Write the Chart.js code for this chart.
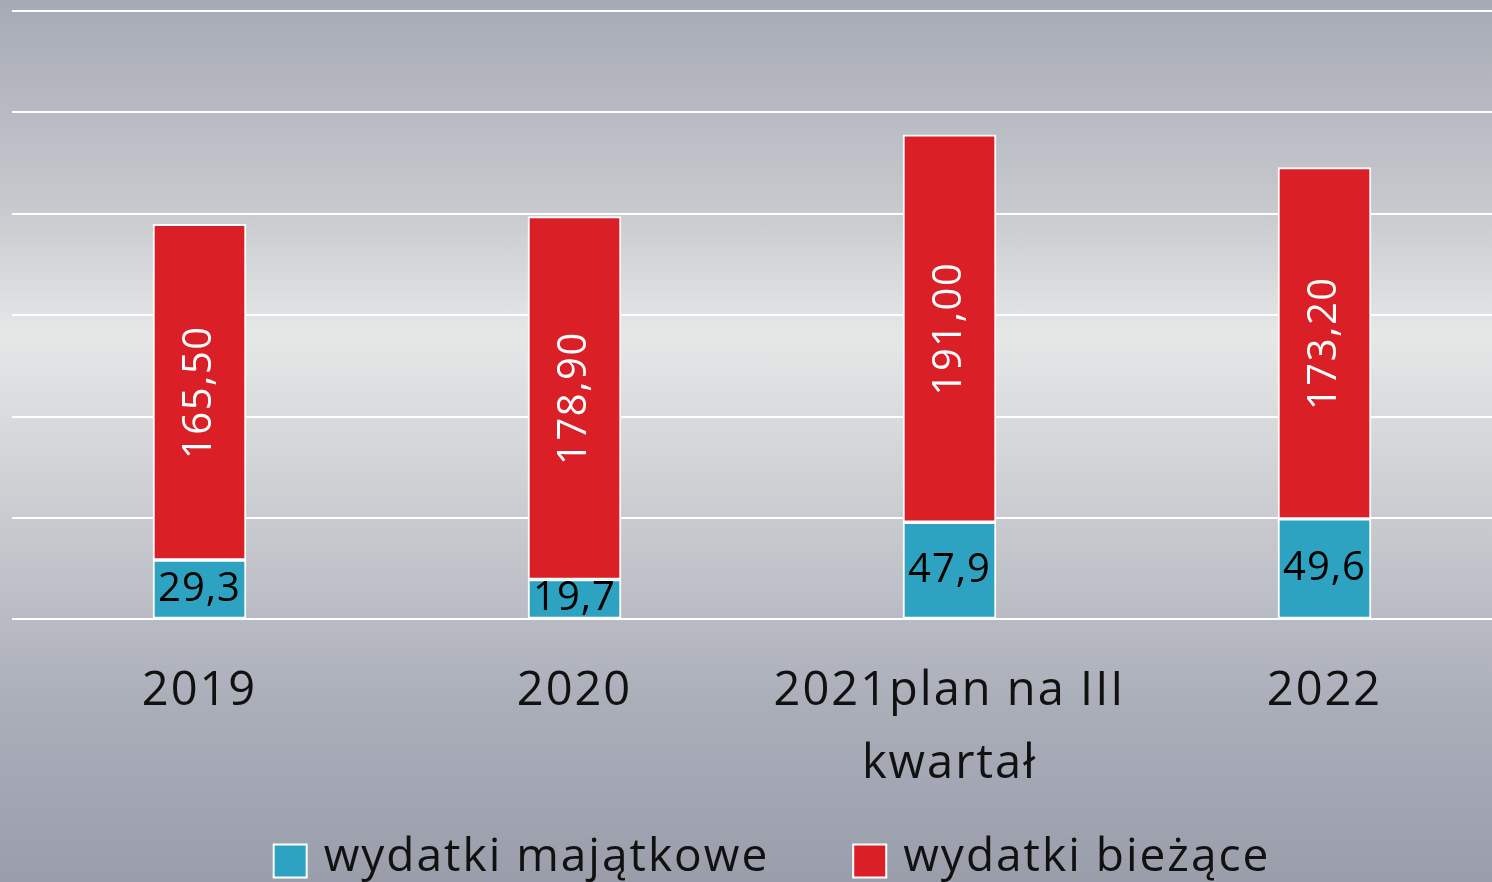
<!DOCTYPE html>
<html>
<head>
<meta charset="utf-8">
<script src="https://cdn.jsdelivr.net/npm/chart.js@4"></script>
<style>
  html, body { margin: 0; padding: 0; overflow: hidden; }
  body {
    width: 1492px; height: 882px;
    background: linear-gradient(to bottom, #a6aab5 0%, #c6c8cd 23%, #e6e7e7 38%, #cfd0d4 55%, #aaaeb9 80%, #9a9eab 100%);
  }
  #wrap { width: 1512px; height: 882px; position: relative; }
</style>
</head>
<body>
<div id="wrap"><canvas id="chart"></canvas></div>
<script>
const categories = ["2019", "2020", ["2021plan na III", "kwartał"], "2022"];
const majatkowe = [29.3, 19.7, 47.9, 49.6];
const biezace = [165.5, 178.9, 191.0, 173.2];

const FONT = "'Open Sans', 'DejaVu Sans', sans-serif";

// letter spacing survives canvas resets only if set again
const spacing = {
  id: "spacing",
  beforeUpdate(chart) { chart.ctx.letterSpacing = "2px"; },
  beforeDraw(chart) { chart.ctx.letterSpacing = "2px"; }
};

// values inside the bars
const barLabels = {
  id: "barLabels",
  afterDatasetsDraw(chart) {
    const ctx = chart.ctx;
    chart.data.datasets.forEach((ds, di) => {
      chart.getDatasetMeta(di).data.forEach((bar, i) => {
        const v = ds.data[i];
        const cy = (bar.y + bar.base) / 2;
        ctx.save();
        ctx.font = "40px " + FONT;
        ctx.textAlign = "center";
        ctx.textBaseline = "middle";
        if (di === 0) {
          ctx.letterSpacing = "1px";
          ctx.fillStyle = "#000";
          ctx.fillText(v.toFixed(1).replace(".", ","), bar.x, cy);
        } else {
          ctx.letterSpacing = "1.5px";
          ctx.fillStyle = "#fff";
          ctx.translate(bar.x, cy);
          ctx.rotate(-Math.PI / 2);
          ctx.fillText(v.toFixed(2).replace(".", ","), 0, 0);
        }
        ctx.restore();
      });
    });
  }
};

// legend at the bottom, drawn by hand for the wide gap between items
const bottomLegend = {
  id: "bottomLegend",
  afterDraw(chart) {
    const ctx = chart.ctx;
    const box = 33, gap = 17, between = 84, cx = 772, cy = 861;
    ctx.save();
    ctx.letterSpacing = "2px";
    ctx.font = "46px " + FONT;
    ctx.textBaseline = "middle";
    const items = chart.data.datasets.map(ds => ({
      text: ds.label, color: ds.backgroundColor, w: ctx.measureText(ds.label).width
    }));
    let total = items.reduce((s, it) => s + box + gap + it.w, 0) + between * (items.length - 1);
    let x = cx - total / 2;
    items.forEach(it => {
      ctx.fillStyle = it.color;
      ctx.fillRect(x, cy - box / 2, box, box);
      ctx.strokeStyle = "#fff";
      ctx.lineWidth = 2;
      ctx.strokeRect(x, cy - box / 2, box, box);
      ctx.fillStyle = "#111";
      ctx.fillText(it.text, x + box + gap, cy - 3);
      x += box + gap + it.w + between;
    });
    ctx.restore();
  }
};

new Chart(document.getElementById("chart"), {
  type: "bar",
  data: {
    labels: categories,
    datasets: [
      {
        label: "wydatki majątkowe",
        data: majatkowe,
        backgroundColor: "#2ea3c1",
        borderColor: "#fff",
        borderWidth: 2,
        borderSkipped: false
      },
      {
        label: "wydatki bieżące",
        data: biezace,
        backgroundColor: "#da1f27",
        borderColor: "#fff",
        borderWidth: 2,
        borderSkipped: false
      }
    ]
  },
  options: {
    responsive: true,
    maintainAspectRatio: false,
    animation: false,
    datasets: { bar: { barThickness: 93 } },
    layout: { padding: { left: 12, top: 11, bottom: 53 } },
    scales: {
      x: {
        stacked: true,
        grid: { display: false },
        border: { display: false },
        ticks: {
          color: "#111",
          padding: 27,
          font: { family: FONT, size: 47, lineHeight: 1.57 }
        }
      },
      y: {
        stacked: true,
        min: 0,
        max: 300,
        ticks: { display: false, stepSize: 50 },
        grid: { color: "#fff", lineWidth: 2, drawTicks: false },
        border: { display: false }
      }
    },
    plugins: {
      legend: { display: false },
      tooltip: { enabled: false }
    }
  },
  plugins: [spacing, barLabels, bottomLegend]
});
</script>
</body>
</html>
